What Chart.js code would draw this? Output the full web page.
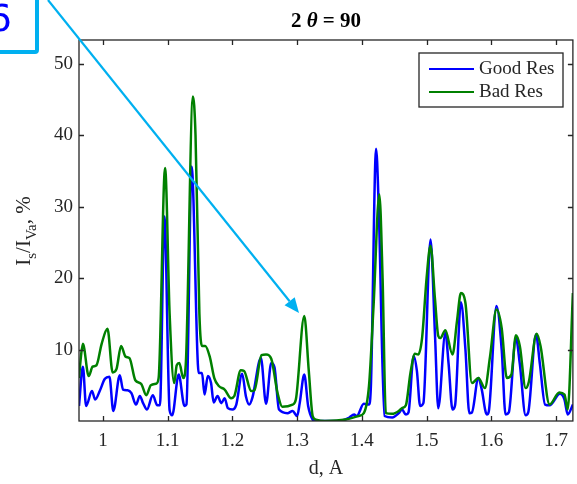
<!DOCTYPE html>
<html>
<head>
<meta charset="utf-8">
<script src="https://cdn.jsdelivr.net/npm/chart.js@4.4.1/dist/chart.umd.min.js"></script>
<style>
  html, body { margin: 0; padding: 0; background: #fff; }
  #wrap { width: 577px; height: 484px; position: relative; }
</style>
</head>
<body>
<div id="wrap"><canvas id="chart" width="577" height="484"></canvas></div>
<script>
// d spacing, A
const goodD = [0.963, 0.969, 0.974, 0.983, 0.988, 0.995, 1.003, 1.010, 1.016, 1.026,
  1.031, 1.038, 1.044, 1.051, 1.057, 1.062, 1.068, 1.077, 1.084, 1.088,
  1.095, 1.103, 1.107, 1.117, 1.126, 1.129, 1.137, 1.148, 1.153, 1.157,
  1.162, 1.167, 1.171, 1.177, 1.183, 1.188, 1.193, 1.200, 1.206, 1.215,
  1.221, 1.226, 1.231, 1.244, 1.252, 1.260, 1.265, 1.272, 1.285, 1.293,
  1.300, 1.304, 1.311, 1.317, 1.324, 1.328, 1.365, 1.380, 1.388, 1.392,
  1.403, 1.411, 1.414, 1.422, 1.426, 1.435, 1.447, 1.457, 1.462, 1.468,
  1.472, 1.480, 1.485, 1.490, 1.495, 1.506, 1.513, 1.518, 1.529, 1.534,
  1.540, 1.544, 1.553, 1.560, 1.566, 1.570, 1.580, 1.585, 1.593, 1.596,
  1.608, 1.616, 1.622, 1.627, 1.638, 1.644, 1.653, 1.657, 1.669, 1.675,
  1.683, 1.690, 1.706, 1.713, 1.718, 1.726]
// Is/IVa, % (Good Res)
const goodRes = [2.1, 7.6, 2.1, 4.2, 3.0, 4.2, 5.9, 6.2, 1.4, 6.4,
  4.4, 4.3, 3.9, 2.3, 3.5, 2.5, 1.6, 3.6, 2.2, 2.2,
  28.6, 1.5, 0.8, 6.5, 2.1, 2.3, 35.6, 6.7, 6.7, 3.7,
  6.3, 5.3, 2.6, 3.5, 2.5, 3.2, 1.8, 1.6, 2.3, 6.6,
  3.4, 2.3, 3.3, 8.8, 2.4, 8.1, 7.5, 1.6, 1.1, 1.4,
  0.7, 2.5, 6.5, 2.1, 0.2, 0, 0, 0.45, 0.9, 0.7,
  2.4, 2.3, 5, 38.1, 30, 0.7, 0.5, 1.1, 1.6, 0.9,
  1.2, 9.1, 7, 2.1, 2.5, 25.4, 12, 1.8, 12.3, 8,
  1.6, 2.2, 16.6, 10, 1.1, 1.2, 6.0, 4.5, 0.9, 1.3,
  16.1, 10, 0.9, 1.2, 11.6, 8, 0.8, 1.2, 12.1, 8,
  2.3, 2.2, 3.8, 3.0, 0.9, 2.3]

const badD = [0.963, 0.966, 0.969, 0.978, 0.984, 0.990, 0.998, 1.007, 1.015, 1.021,
  1.028, 1.035, 1.041, 1.050, 1.059, 1.067, 1.074, 1.082, 1.086, 1.096,
  1.103, 1.110, 1.114, 1.118, 1.124, 1.128, 1.139, 1.143, 1.149, 1.153,
  1.158, 1.165, 1.172, 1.179, 1.188, 1.198, 1.203, 1.213, 1.218, 1.229,
  1.234, 1.245, 1.252, 1.260, 1.270, 1.277, 1.293, 1.298, 1.311, 1.318,
  1.324, 1.329, 1.343, 1.375, 1.395, 1.403, 1.411, 1.418, 1.427, 1.432,
  1.437, 1.447, 1.457, 1.462, 1.468, 1.475, 1.482, 1.487, 1.493, 1.500,
  1.506, 1.513, 1.518, 1.521, 1.529, 1.540, 1.547, 1.553, 1.560, 1.570,
  1.580, 1.590, 1.598, 1.608, 1.616, 1.624, 1.631, 1.638, 1.644, 1.653,
  1.658, 1.670, 1.676, 1.690, 1.705, 1.713, 1.718, 1.726]
// Is/IVa, % (Bad Res)
const badRes = [6.0, 9.0, 10.8, 6.3, 7.6, 7.8, 10.8, 12.9, 6.8, 7.3,
  10.5, 9.0, 8.8, 5.7, 5.2, 3.6, 5.0, 5.2, 6, 35.4,
  15, 5.3, 7.8, 8.1, 6.0, 8, 45.4, 40, 15, 10.5,
  10.5, 9.0, 6.0, 4.9, 4.4, 3.2, 3.5, 7.1, 7.0, 4.2,
  4.3, 9.2, 9.3, 8.7, 3.8, 2.0, 2.3, 3, 14.7, 7,
  0.7, 0.2, 0, 0.2, 0.7, 1.1, 4.9, 16, 31.7, 20,
  1.1, 1.0, 1.4, 1.8, 2.2, 6.7, 9.4, 9.3, 11.6, 20,
  24.5, 17, 11.9, 11.6, 12.7, 9.3, 14, 17.9, 16.5, 5.3,
  6.0, 4.6, 9, 15.6, 13, 6.0, 6.5, 12.0, 10.5, 4.6,
  5.5, 12.2, 10.5, 2.3, 4.0, 3.7, 1.6, 17.9]

const xTicks = [1, 1.1, 1.2, 1.3, 1.4, 1.5, 1.6, 1.7]
const yTicks = [10, 20, 30, 40, 50]

const serif = '"Liberation Serif", "Times New Roman", serif'
const ink = '#262626'

const toPoints = (xs, ys) => xs.map((x, i) => ({ x, y: ys[i] }))

// box, inward ticks, legend, titles, annotation arrow
const decor = {
  id: 'decor',
  afterDatasetsDraw (chart) {
    const { ctx, chartArea: a, scales } = chart
    ctx.save()
    ctx.strokeStyle = ink
    ctx.lineWidth = 1.3
    ctx.strokeRect(a.left, a.top, a.right - a.left, a.bottom - a.top)
    ctx.beginPath()
    xTicks.forEach(v => {
      const px = Math.round(scales.x.getPixelForValue(v)) + 0.5
      ctx.moveTo(px, a.bottom); ctx.lineTo(px, a.bottom - 5)
      ctx.moveTo(px, a.top); ctx.lineTo(px, a.top + 5)
    })
    yTicks.forEach(v => {
      const py = Math.round(scales.y.getPixelForValue(v)) + 0.5
      ctx.moveTo(a.left, py); ctx.lineTo(a.left + 5, py)
      ctx.moveTo(a.right, py); ctx.lineTo(a.right - 5, py)
    })
    ctx.stroke()

    // legend
    const lx = 419, ly = 53, lw = 144, lh = 54
    ctx.fillStyle = '#fff'
    ctx.fillRect(lx, ly, lw, lh)
    ctx.strokeStyle = ink
    ctx.lineWidth = 1.3
    ctx.strokeRect(lx, ly, lw, lh)
    chart.data.datasets.forEach((ds, i) => {
      const yy = ly + 16 + i * 23
      ctx.strokeStyle = ds.borderColor
      ctx.lineWidth = 2
      ctx.beginPath()
      ctx.moveTo(lx + 10, yy); ctx.lineTo(lx + 55, yy)
      ctx.stroke()
      ctx.fillStyle = ink
      ctx.font = '19px ' + serif
      ctx.textBaseline = 'middle'
      ctx.textAlign = 'left'
      ctx.fillText(ds.label, lx + 60, yy)
    })

    // title: 2 θ = 90
    const cx = (a.left + a.right) / 2
    ctx.fillStyle = '#000'
    ctx.textBaseline = 'alphabetic'
    const parts = [['bold 21px ', '2 '], ['bold italic 21px ', 'θ'], ['bold 21px ', ' = 90']]
    let tw = 0
    parts.forEach(p => { ctx.font = p[0] + serif; tw += ctx.measureText(p[1]).width })
    let tx = cx - tw / 2
    parts.forEach(p => {
      ctx.font = p[0] + serif
      ctx.textAlign = 'left'
      ctx.fillText(p[1], tx, 27)
      tx += ctx.measureText(p[1]).width
    })

    // x title
    ctx.fillStyle = ink
    ctx.font = '20px ' + serif
    ctx.textAlign = 'center'
    ctx.fillText('d, A', cx, 474)

    // y title with subscripts
    ctx.save()
    ctx.translate(30, 231)
    ctx.rotate(-Math.PI / 2)
    const ys = [['21px ', 'I', 0], ['15px ', 's', 6], ['21px ', '/I', 0], ['15px ', 'Va', 6], ['21px ', ', %', 0]]
    let yw = 0
    ys.forEach(p => { ctx.font = p[0] + serif; yw += ctx.measureText(p[1]).width })
    let yx = -yw / 2
    ctx.textAlign = 'left'
    ys.forEach(p => {
      ctx.font = p[0] + serif
      ctx.fillText(p[1], yx, p[2])
      yx += ctx.measureText(p[1]).width
    })
    ctx.restore()
    ctx.restore()
  },
  afterDraw (chart) {
    const { ctx } = chart
    ctx.save()
    // boxed label in the corner
    ctx.strokeStyle = '#00b0f0'
    ctx.lineWidth = 4
    ctx.beginPath()
    ctx.moveTo(-5, 52); ctx.lineTo(35, 52); ctx.quadraticCurveTo(37, 52, 37, 50); ctx.lineTo(37, -5)
    ctx.stroke()
    ctx.fillStyle = '#0000ff'
    ctx.font = '38px "DejaVu Sans", sans-serif'
    ctx.textAlign = 'right'
    ctx.textBaseline = 'alphabetic'
    ctx.fillText('6', 12, 31)
    // arrow
    const x0 = 48, y0 = 0, x1 = 299, y1 = 313
    const ang = Math.atan2(y1 - y0, x1 - x0)
    const hl = 15, hw = 6.5
    const bx = x1 - hl * Math.cos(ang), by = y1 - hl * Math.sin(ang)
    ctx.strokeStyle = '#00b0f0'
    ctx.fillStyle = '#00b0f0'
    ctx.lineWidth = 2.2
    ctx.beginPath()
    ctx.moveTo(x0, y0); ctx.lineTo(bx, by)
    ctx.stroke()
    ctx.beginPath()
    ctx.moveTo(x1, y1)
    ctx.lineTo(bx + hw * Math.sin(ang), by - hw * Math.cos(ang))
    ctx.lineTo(bx - hw * Math.sin(ang), by + hw * Math.cos(ang))
    ctx.closePath()
    ctx.fill()
    ctx.restore()
  }
}

const ctx = document.getElementById('chart').getContext('2d')
// eslint-disable-next-line
new Chart(ctx, {
  type: 'line',
  data: {
    datasets: [
      {
        label: 'Good Res',
        data: toPoints(goodD, goodRes),
        borderColor: '#0000ff',
        borderWidth: 2.5,
        pointRadius: 0,
        cubicInterpolationMode: 'monotone',
        order: 1
      },
      {
        label: 'Bad Res',
        data: toPoints(badD, badRes),
        borderColor: '#008000',
        borderWidth: 2.5,
        pointRadius: 0,
        cubicInterpolationMode: 'monotone',
        order: 0
      }
    ]
  },
  options: {
    responsive: false,
    animation: false,
    events: [],
    layout: { padding: { top: 40, right: 2, left: 0, bottom: 0 } },
    plugins: { legend: { display: false }, tooltip: { enabled: false } },
    scales: {
      x: {
        type: 'linear',
        min: 0.963,
        max: 1.726,
        afterFit: s => { s.height = 63 },
        afterBuildTicks: s => { s.ticks = xTicks.map(v => ({ value: v })) },
        grid: { display: false, drawTicks: false },
        border: { display: false },
        ticks: {
          color: ink,
          padding: 9,
          maxRotation: 0,
          font: { family: serif, size: 19 },
          callback: v => String(v)
        }
      },
      y: {
        min: 0,
        max: 53.3,
        afterFit: s => { s.width = 79 },
        afterBuildTicks: s => { s.ticks = yTicks.map(v => ({ value: v })) },
        grid: { display: false, drawTicks: false },
        border: { display: false },
        ticks: {
          color: ink,
          padding: 6,
          font: { family: serif, size: 19 }
        }
      }
    }
  },
  plugins: [decor]
})
</script>
</body>
</html>
